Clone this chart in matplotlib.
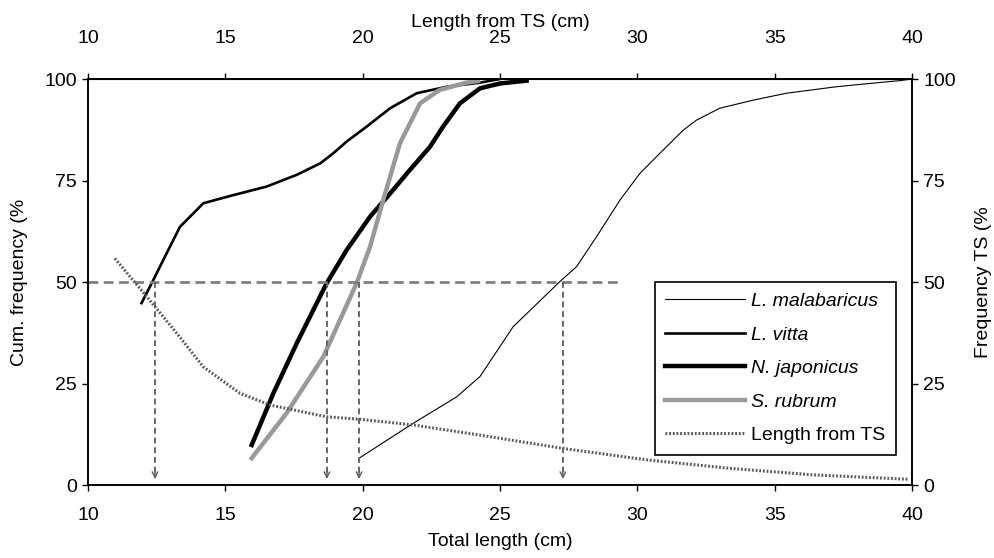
import matplotlib.pyplot as plt

# --- data ---
mal_x = [19.87, 21.84, 23.42, 24.27, 25.48, 27.18, 27.79, 28.52, 29.37, 30.1, 30.82,
         31.67, 32.16, 33.0, 34.22, 35.43, 37.25, 39.07, 39.56, 40.0]
mal_y = [6.6, 15.2, 21.7, 26.7, 39.0, 50.1, 53.8, 61.2, 70.2, 76.8, 81.7,
         87.4, 89.9, 92.8, 94.8, 96.5, 98.1, 99.3, 99.6, 100.0]

vit_x = [11.95, 12.32, 12.74, 13.35, 14.2, 15.29, 16.5, 17.6, 18.45, 18.93, 19.42,
         20.15, 21.0, 21.97, 23.06, 24.27, 25.0]
vit_y = [44.8, 49.7, 55.4, 63.6, 69.4, 71.4, 73.5, 76.4, 79.2, 81.7, 84.6,
         88.3, 92.8, 96.5, 98.1, 99.1, 100.0]

jap_x = [15.96, 16.75, 17.6, 18.69, 19.42, 20.27, 21.0, 21.72, 22.45, 22.93, 23.54,
         24.27, 25.0, 25.97]
jap_y = [9.85, 22.6, 34.9, 49.7, 57.9, 66.1, 71.8, 77.6, 83.3, 88.3, 94.0,
         97.7, 98.9, 99.6]

rub_x = [15.96, 17.23, 18.57, 19.78, 20.27, 20.75, 21.36, 22.09, 22.8, 23.78, 24.2]
rub_y = [6.6, 17.7, 31.6, 49.7, 58.7, 70.2, 84.2, 94.0, 97.3, 99.1, 99.5]

ts_x = [10.98, 12.14, 13.23, 14.2, 15.53, 16.63, 18.69, 19.9, 21.84, 24.27, 27.3,
        30.34, 33.37, 36.4, 39.9]
ts_y = [55.8, 46.4, 37.4, 29.1, 22.6, 19.7, 16.8, 16.2, 14.8, 12.3, 9.0,
        6.2, 4.1, 2.5, 1.4]

half_level = 50
half_end = 29.44
arrow_x = [12.44, 18.7, 19.87, 27.29]

ticks_x = [10, 15, 20, 25, 30, 35, 40]
ticks_y = [0, 25, 50, 75, 100]

plt.rcParams['font.family'] = ['Liberation Sans', 'DejaVu Sans']

fig = plt.figure(figsize=(9.94, 5.58), dpi=100)
ax = fig.add_axes([0.0885, 0.1308, 0.829, 0.7276])
ax2 = ax.twinx()

h1, = ax.plot(mal_x, mal_y, color='black', lw=0.8)
h2, = ax.plot(vit_x, vit_y, color='black', lw=1.9)
h3, = ax.plot(jap_x, jap_y, color='black', lw=3.2)
h4, = ax.plot(rub_x, rub_y, color='0.6', lw=3.2)
h5, = ax2.plot(ts_x, ts_y, color='0.35', lw=2.2, linestyle=(0, (0.6, 0.6)))

# 50 % reference line and arrows down to the x axis
ax.plot([10, half_end], [half_level, half_level], color='0.5', lw=2, dashes=(3.5, 2))
for xa in arrow_x:
    ax.plot([xa, xa], [half_level, 2], color='0.4', lw=1.4, dashes=(3, 2))
    ax.annotate('', xy=(xa, 0.8), xytext=(xa, 4),
                arrowprops=dict(arrowstyle='->', color='0.35', lw=1.0,
                                mutation_scale=10))

for a in (ax, ax2):
    a.set_xlim(10, 40)
    a.set_ylim(0, 100)
    a.set_yticks(ticks_y)
    for s in a.spines.values():
        s.set_linewidth(1.2)
ax.set_xticks(ticks_x)
ax.tick_params(axis='x', direction='out', length=4, width=1, labelsize=14, pad=12)
ax.tick_params(axis='y', direction='out', length=4, width=1, labelsize=14, pad=4)
ax2.tick_params(axis='y', direction='out', length=4, width=1, labelsize=14, pad=4)

top = ax.secondary_xaxis('top')
top.set_xticks(ticks_x)
top.tick_params(direction='out', length=4, width=1, labelsize=14, pad=19)
top.set_xlabel('Length from TS (cm)', fontsize=14, labelpad=2)

ax.set_xlabel('Total length (cm)', fontsize=14, labelpad=6)
ax.set_ylabel('Cum. frequency (%', fontsize=14, labelpad=12)
ax2.set_ylabel('Frequency TS (%', fontsize=14, labelpad=14)

leg = ax.legend([h1, h2, h3, h4, h5],
                ['L. malabaricus', 'L. vitta', 'N. japonicus', 'S. rubrum', 'Length from TS'],
                loc='upper left', bbox_to_anchor=(0.676, 0.5246), fancybox=False,
                edgecolor='black', framealpha=1, handlelength=4.1,
                handletextpad=0.3, labelspacing=0.82, borderpad=0.55,
                prop={'size': 14})
leg.get_frame().set_linewidth(1.2)
for t in leg.get_texts()[:4]:
    t.set_style('italic')

fig.savefig('out.png', dpi=100)
